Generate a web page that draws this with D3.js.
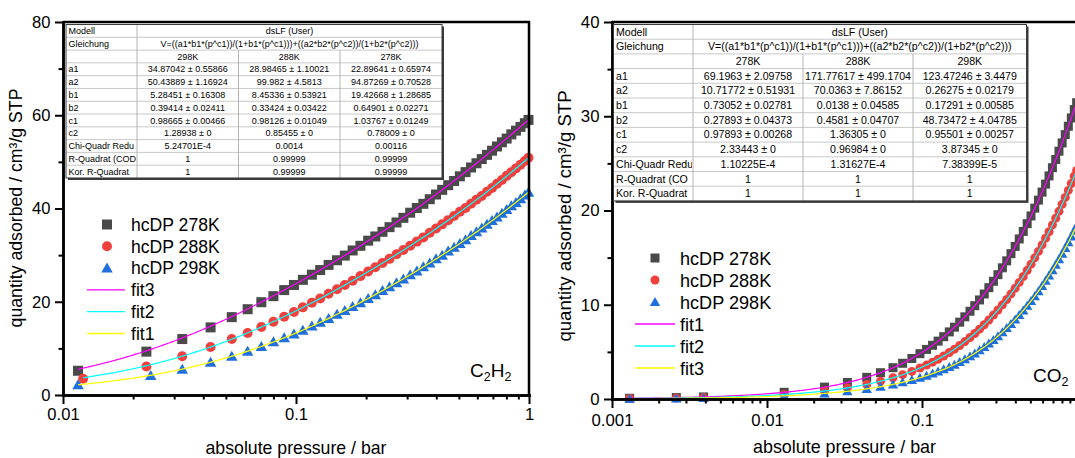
<!DOCTYPE html>
<html>
<head>
<meta charset="utf-8">
<script src="https://cdn.jsdelivr.net/npm/d3@7"></script>
<style>
  html, body { margin: 0; padding: 0; background: #fff; }
  svg { display: block; }
</style>
</head>
<body>
<svg id="chart" width="1075" height="458"></svg>
<script>
// ---------------- C2H2 isotherms (hcDP) ----------------
const c2h2StartP278 = [0.0116, 0.0228];
const c2h2StartP288 = [0.0122, 0.0228];
const c2h2StartP298 = [0.0116, 0.0238];
const c2h2Pressure = [0.0325, 0.043, 0.053, 0.062, 0.071, 0.080, 0.089, 0.098, 0.107, 0.117,
  0.127, 0.138, 0.150, 0.162, 0.175, 0.189, 0.204, 0.219, 0.235, 0.252, 0.270, 0.289, 0.309,
  0.330, 0.352, 0.375, 0.399, 0.424, 0.450, 0.477, 0.505, 0.534, 0.564, 0.595, 0.627, 0.660,
  0.694, 0.729, 0.765, 0.802, 0.840, 0.879, 0.919, 0.960, 0.995];
const c2h2Uptake278 = [5.2, 9.3, 12.0, 14.5, 16.7, 18.4, 19.9, 21.2, 22.5, 23.6, 24.7, 25.8,
  26.8, 27.9, 28.9, 29.9, 31.0, 32.0, 33.1, 34.0, 35.0, 36.0, 37.0, 38.0, 39.1, 40.1, 41.0,
  42.0, 43.0, 44.0, 45.0, 45.9, 46.9, 47.8, 48.8, 49.7, 50.6, 51.5, 52.4, 53.3, 54.2, 55.0,
  55.9, 56.7, 57.5, 58.3, 59.0];
const c2h2Uptake288 = [3.5, 6.1, 8.3, 10.3, 12.0, 13.3, 14.6, 15.7, 16.8, 17.8, 18.8, 19.8,
  20.7, 21.7, 22.7, 23.6, 24.5, 25.5, 26.5, 27.4, 28.3, 29.2, 30.2, 31.1, 32.0, 32.9, 33.8,
  34.8, 35.7, 36.6, 37.5, 38.4, 39.3, 40.1, 41.0, 41.9, 42.7, 43.6, 44.4, 45.3, 46.1, 47.0,
  47.8, 48.6, 49.4, 50.2, 50.9];
const c2h2Uptake298 = [2.2, 4.2, 5.5, 7.0, 8.3, 9.4, 10.4, 11.4, 12.3, 13.1, 13.9, 14.8,
  15.6, 16.4, 17.3, 18.1, 19.0, 19.8, 20.7, 21.5, 22.4, 23.2, 24.1, 24.9, 25.8, 26.6, 27.5,
  28.3, 29.2, 30.0, 30.9, 31.7, 32.5, 33.3, 34.2, 35.0, 35.8, 36.6, 37.4, 38.2, 39.0, 39.8,
  40.6, 41.3, 42.1, 42.9, 43.5];

// dsLF fit results for C2H2 (columns: 298K, 288K, 278K)
const c2h2Temps = ["298K", "288K", "278K"];
const c2h2A1 = [34.87042, 28.98465, 22.89641], c2h2A1Err = [0.55866, 1.10021, 0.65974];
const c2h2A2 = [50.43889, 99.982, 94.87269],   c2h2A2Err = [1.16924, 4.5813, 0.70528];
const c2h2B1 = [5.28451, 8.45336, 19.42668],   c2h2B1Err = [0.16308, 0.53921, 1.28685];
const c2h2B2 = [0.39414, 0.33424, 0.64901],    c2h2B2Err = [0.02411, 0.03422, 0.02271];
const c2h2C1 = [0.98665, 0.98126, 1.03767],    c2h2C1Err = [0.00466, 0.01049, 0.01249];
const c2h2C2 = [1.28938, 0.85455, 0.78009],    c2h2C2Err = [0, 0, 0];
const c2h2Chi = ["5.24701E-4", "0.0014", "0.00116"];
const c2h2R2 = ["1", "0.99999", "0.99999"];
const c2h2AdjR2 = ["1", "0.99999", "0.99999"];
const c2h2RowLabels = ["Modell", "Gleichung", "", "a1", "a2", "b1", "b2", "c1", "c2",
  "Chi-Quadr Redu", "R-Quadrat (COD", "Kor. R-Quadrat"];

// ---------------- CO2 isotherms (hcDP) ----------------
const co2Pressure = [0.0013, 0.0026, 0.0039, 0.0129, 0.0235, 0.033, 0.044, 0.054, 0.065, 0.075,
  0.086, 0.097, 0.107, 0.117, 0.127, 0.138, 0.150, 0.162, 0.175, 0.189, 0.204, 0.219, 0.235,
  0.252, 0.270, 0.289, 0.309, 0.330, 0.352, 0.375, 0.399, 0.424, 0.450, 0.477, 0.505, 0.534,
  0.564, 0.595, 0.627, 0.660, 0.694, 0.729, 0.765, 0.802, 0.840, 0.879, 0.919, 0.960, 0.995];
const co2Uptake278 = [0.08, 0.15, 0.22, 0.71, 1.26, 1.75, 2.30, 2.79, 3.32, 3.79, 4.30, 4.81,
  5.26, 5.70, 6.14, 6.61, 7.12, 7.62, 8.15, 8.72, 9.31, 9.90, 10.51, 11.14, 11.81, 12.49,
  13.19, 13.92, 14.66, 15.42, 16.19, 16.98, 17.78, 18.60, 19.42, 20.25, 21.10, 21.95, 22.80,
  23.67, 24.54, 25.41, 26.29, 27.17, 28.05, 28.94, 29.82, 30.71, 31.44];
const co2Uptake288 = [0.05, 0.10, 0.15, 0.48, 0.85, 1.18, 1.55, 1.89, 2.25, 2.58, 2.93, 3.29,
  3.60, 3.91, 4.22, 4.56, 4.93, 5.29, 5.68, 6.09, 6.52, 6.95, 7.41, 7.88, 8.38, 8.90, 9.44,
  9.99, 10.56, 11.15, 11.75, 12.37, 13.00, 13.65, 14.31, 14.98, 15.66, 16.35, 17.05, 17.75,
  18.47, 19.19, 19.91, 20.65, 21.39, 22.13, 22.87, 23.63, 24.26];
const co2Uptake298 = [0.04, 0.07, 0.11, 0.33, 0.59, 0.82, 1.07, 1.30, 1.55, 1.77, 2.02, 2.26,
  2.48, 2.70, 2.91, 3.15, 3.40, 3.65, 3.93, 4.22, 4.53, 4.84, 5.17, 5.52, 5.89, 6.27, 6.67,
  7.09, 7.53, 7.97, 8.44, 8.91, 9.40, 9.89, 10.40, 10.92, 11.45, 11.99, 12.54, 13.10, 13.67,
  14.24, 14.83, 15.42, 16.02, 16.63, 17.24, 17.86, 18.39];

// dsLF fit results for CO2 (columns: 278K, 288K, 298K)
const co2Temps = ["278K", "288K", "298K"];
const co2A1 = [69.1963, 171.77617, 123.47246], co2A1Err = [2.09758, 499.1704, 3.4479];
const co2A2 = [10.71772, 70.0363, 0.26275],    co2A2Err = [0.51931, 7.86152, 0.02179];
const co2B1 = [0.73052, 0.0138, 0.17291],      co2B1Err = [0.02781, 0.04585, 0.00585];
const co2B2 = [0.27893, 0.4581, 48.73472],     co2B2Err = [0.04373, 0.04707, 4.04785];
const co2C1 = [0.97893, 1.36305, 0.95501],     co2C1Err = [0.00268, 0, 0.00257];
const co2C2 = [2.33443, 0.96984, 3.87345],     co2C2Err = [0, 0, 0];
const co2Chi = ["1.10225E-4", "1.31627E-4", "7.38399E-5"];
const co2R2 = ["1", "1", "1"];
const co2AdjR2 = ["1", "1", "1"];
const co2RowLabels = ["Modell", "Gleichung", "", "a1", "a2", "b1", "b2", "c1", "c2",
  "Chi-Quadr Redu", "R-Quadrat (CO", "Kor. R-Quadrat"];

// ---------------- shared text and ticks ----------------
const equation = "V=((a1*b1*(p^c1))/(1+b1*(p^c1)))+((a2*b2*(p^c2))/(1+b2*(p^c2)))";
const c2h2XTicks = [0.01, 0.1, 1], c2h2XTickLabels = ["0.01", "0.1", "1"];
const c2h2XMinor = [0.02, 0.03, 0.04, 0.05, 0.06, 0.07, 0.08, 0.09, 0.2, 0.3, 0.4, 0.5, 0.6, 0.7, 0.8, 0.9];
const c2h2YTicks = [0, 20, 40, 60, 80], c2h2YMinor = [10, 30, 50, 70];
const co2XTicks = [0.001, 0.01, 0.1], co2XTickLabels = ["0.001", "0.01", "0.1"];
const co2XMinor = [0.002, 0.003, 0.004, 0.005, 0.006, 0.007, 0.008, 0.009,
  0.02, 0.03, 0.04, 0.05, 0.06, 0.07, 0.08, 0.09, 0.2, 0.3, 0.4, 0.5, 0.6, 0.7, 0.8, 0.9];
const co2YTicks = [0, 10, 20, 30, 40], co2YMinor = [5, 15, 25, 35];

const FONT = '"Liberation Sans", Arial, Helvetica, sans-serif';
const COL_SQ = "#4a4a4a", COL_CI = "#f0403e", COL_TR = "#1f6fdc";
const svg = d3.select("#chart");

// double-site Langmuir-Freundlich model
function dsLF(p, a1, b1, c1, a2, b2, c2) {
  const u = b1 * Math.pow(p, c1), v = b2 * Math.pow(p, c2);
  return a1 * u / (1 + u) + a2 * v / (1 + v);
}

function pm(v, e) { return v + " \u00b1 " + e; }

function drawMarker(sel, shape, s, color) {
  if (shape === "square") {
    sel.append("rect").attr("x", -s / 2).attr("y", -s / 2).attr("width", s).attr("height", s).attr("fill", color);
  } else if (shape === "circle") {
    sel.append("circle").attr("r", s / 2).attr("fill", color);
  } else {
    const w = s * 1.15, h = s;
    sel.append("path").attr("d", `M0,${-h * 0.55}L${w / 2},${h * 0.45}L${-w / 2},${h * 0.45}Z`).attr("fill", color);
  }
}

function drawPanel(cfg) {
  const g = svg.append("g");
  const x = d3.scaleLog().domain(cfg.xDomain).range(cfg.xRange);
  const y = d3.scaleLinear().domain(cfg.yDomain).range(cfg.yRange);
  const [x0, x1] = cfg.xRange, [yb, yt] = cfg.yRange;

  // data markers
  cfg.series.forEach(s => {
    g.append("g").selectAll("g")
      .data(d3.zip(s.p, s.q))
      .join("g")
      .attr("transform", d => `translate(${x(d[0])},${y(d[1])})`)
      .each(function () { drawMarker(d3.select(this), s.shape, cfg.markerSize, s.color); });
  });

  // fitted curves from the tabulated parameters
  const line = d3.line().x(d => x(d[0])).y(d => y(d[1]));
  cfg.fits.forEach(f => {
    const P = cfg.params, k = f.col;
    const pts = d3.range(0, 301).map(i => {
      const p = f.pStart * Math.pow(1 / f.pStart, i / 300);
      return [p, dsLF(p, P.a1[k], P.b1[k], P.c1[k], P.a2[k], P.b2[k], P.c2[k])];
    });
    g.append("path").datum(pts).attr("d", line)
      .attr("fill", "none").attr("stroke", f.color).attr("stroke-width", 1.2);
  });

  // frame (top and right)
  g.append("path").attr("d", `M${x0},${yt}H${x1}V${yb}`)
    .attr("fill", "none").attr("stroke", "#000").attr("stroke-width", 2.5);

  function styleAxis(a, fs) {
    a.attr("font-family", FONT).attr("font-size", fs);
    a.select(".domain").attr("stroke-width", 2.5).attr("stroke-linecap", "square");
    a.selectAll(".tick line").attr("stroke-width", 2);
  }
  // x axis
  styleAxis(g.append("g").attr("transform", `translate(0,${yb})`)
    .call(d3.axisBottom(x).tickValues(cfg.xMinor).tickSize(4.5).tickSizeOuter(0).tickFormat("")), cfg.tickFont);
  styleAxis(g.append("g").attr("transform", `translate(0,${yb})`)
    .call(d3.axisBottom(x).tickValues(cfg.xTicks).tickSize(9).tickSizeOuter(0)
      .tickPadding(cfg.xPad).tickFormat((d, i) => cfg.xTickLabels[i])), cfg.tickFont);
  // y axis
  styleAxis(g.append("g").attr("transform", `translate(${x0},0)`)
    .call(d3.axisLeft(y).tickValues(cfg.yMinor).tickSize(4.5).tickSizeOuter(0).tickFormat("")), cfg.tickFont);
  styleAxis(g.append("g").attr("transform", `translate(${x0},0)`)
    .call(d3.axisLeft(y).tickValues(cfg.yTicks).tickSize(8).tickSizeOuter(0).tickPadding(4.5)), cfg.tickFont);

  // axis titles
  g.append("text").attr("x", (x0 + x1) / 2).attr("y", cfg.xTitleY)
    .attr("text-anchor", "middle").attr("font-family", FONT).attr("font-size", cfg.titleFont)
    .text("absolute pressure / bar");
  g.append("text").attr("transform", `translate(${cfg.yTitleX},${cfg.yTitleY}) rotate(-90)`)
    .attr("text-anchor", "middle").attr("font-family", FONT).attr("font-size", cfg.yTitleFont)
    .text("quantity adsorbed / cm\u00b3/g STP");

  // fit-parameter table
  drawTable(cfg.table);

  // legend
  const lg = g.append("g").attr("font-family", FONT).attr("font-size", cfg.legend.font);
  const items = cfg.series.map(s => ({ kind: "marker", s }))
    .concat(cfg.legendFits.map(f => ({ kind: "line", f })));
  items.forEach((it, i) => {
    const cy = cfg.legend.y0 + i * cfg.legend.dy;
    if (it.kind === "marker") {
      const mg = lg.append("g").attr("transform", `translate(${cfg.legend.mx},${cy})`);
      drawMarker(mg, it.s.shape, cfg.legend.markerSize, it.s.color);
      lg.append("text").attr("x", cfg.legend.tx).attr("y", cy).attr("dy", "0.36em").text(it.s.label);
    } else {
      lg.append("line").attr("x1", cfg.legend.lx0).attr("x2", cfg.legend.lx1)
        .attr("y1", cy).attr("y2", cy).attr("stroke", it.f.color).attr("stroke-width", 1.3);
      lg.append("text").attr("x", cfg.legend.tx).attr("y", cy).attr("dy", "0.36em").text(it.f.label);
    }
  });

  // gas label with subscripts
  const gl = g.append("text").attr("x", cfg.gas.x).attr("y", cfg.gas.y)
    .attr("font-family", FONT).attr("font-size", 19);
  cfg.gas.parts.forEach(([t, sub], i) => {
    const ts = gl.append("tspan").text(t);
    if (sub) ts.attr("font-size", 12.5).attr("dy", 4);
    else if (i > 0) ts.attr("dy", -4);
  });
}

let clipId = 0;
function drawTable(t) {
  const g = svg.append("g").attr("font-family", FONT).attr("font-size", t.fontSize);
  const totalW = d3.sum(t.widths), nRows = t.rows.length, totalH = t.rowH * nRows;
  const colX = [t.x];
  t.widths.forEach(w => colX.push(colX[colX.length - 1] + w));

  g.append("rect").attr("x", t.x + 2).attr("y", t.y + 2).attr("width", totalW).attr("height", totalH).attr("fill", "#3a3a3a");
  g.append("rect").attr("x", t.x).attr("y", t.y).attr("width", totalW).attr("height", totalH).attr("fill", "#fff");

  for (let i = 1; i < nRows; i++) {
    g.append("line").attr("x1", t.x).attr("x2", t.x + totalW)
      .attr("y1", t.y + i * t.rowH).attr("y2", t.y + i * t.rowH)
      .attr("stroke", "#c8c8c8").attr("stroke-width", 1);
  }
  g.append("line").attr("x1", colX[1]).attr("x2", colX[1]).attr("y1", t.y).attr("y2", t.y + totalH)
    .attr("stroke", "#b4b4b4").attr("stroke-width", 1);
  [2, 3].forEach(c => g.append("line").attr("x1", colX[c]).attr("x2", colX[c])
    .attr("y1", t.y + 2 * t.rowH).attr("y2", t.y + totalH).attr("stroke", "#b4b4b4").attr("stroke-width", 1));
  g.append("rect").attr("x", t.x).attr("y", t.y).attr("width", totalW).attr("height", totalH)
    .attr("fill", "none").attr("stroke", "#3a3a3a").attr("stroke-width", 1);

  const id = "tblclip" + (clipId++);
  svg.append("defs").append("clipPath").attr("id", id).append("rect")
    .attr("x", colX[0]).attr("y", t.y).attr("width", t.widths[0] - 1).attr("height", totalH);

  t.rows.forEach((r, i) => {
    const cy = t.y + (i + 0.5) * t.rowH;
    g.append("text").attr("x", colX[0] + 2.5).attr("y", cy).attr("dy", "0.35em")
      .attr("clip-path", `url(#${id})`).text(r.label);
    if (r.span !== undefined) {
      g.append("text").attr("x", (colX[1] + colX[4]) / 2).attr("y", cy).attr("dy", "0.35em")
        .attr("text-anchor", "middle").text(r.span);
    } else {
      r.cells.forEach((c, j) => g.append("text").attr("x", (colX[j + 1] + colX[j + 2]) / 2)
        .attr("y", cy).attr("dy", "0.35em").attr("text-anchor", "middle").text(c));
    }
  });
}

function tableRows(labels, temps, A1, A1e, A2, A2e, B1, B1e, B2, B2e, C1, C1e, C2, C2e, chi, r2, adj) {
  const z = (v, e) => v.map((d, i) => pm(d, e[i]));
  const cols = [null, null, temps, z(A1, A1e), z(A2, A2e), z(B1, B1e), z(B2, B2e),
    z(C1, C1e), z(C2, C2e), chi, r2, adj];
  return labels.map((lab, i) => {
    if (i === 0) return { label: lab, span: "dsLF (User)" };
    if (i === 1) return { label: lab, span: equation };
    return { label: lab, cells: cols[i] };
  });
}

// ---------------- left panel: C2H2 ----------------
drawPanel({
  xDomain: [0.01, 1], xRange: [63, 529],
  yDomain: [0, 80], yRange: [395, 22],
  xTicks: c2h2XTicks, xTickLabels: c2h2XTickLabels, xMinor: c2h2XMinor,
  yTicks: c2h2YTicks, yMinor: c2h2YMinor, xPad: 4.5,
  tickFont: 16.6, titleFont: 17.7, yTitleFont: 17.7,
  xTitleY: 454, yTitleX: 22, yTitleY: 208,
  markerSize: 10,
  params: { a1: c2h2A1, b1: c2h2B1, c1: c2h2C1, a2: c2h2A2, b2: c2h2B2, c2: c2h2C2 },
  series: [
    { label: "hcDP 278K", shape: "square", color: COL_SQ, p: c2h2StartP278.concat(c2h2Pressure), q: c2h2Uptake278 },
    { label: "hcDP 288K", shape: "circle", color: COL_CI, p: c2h2StartP288.concat(c2h2Pressure), q: c2h2Uptake288 },
    { label: "hcDP 298K", shape: "triangle", color: COL_TR, p: c2h2StartP298.concat(c2h2Pressure), q: c2h2Uptake298 }
  ],
  fits: [
    { color: "#ff00ff", col: 2, pStart: c2h2StartP278[0] },
    { color: "#00ffff", col: 1, pStart: c2h2StartP288[0] },
    { color: "#ffff00", col: 0, pStart: c2h2StartP298[0] }
  ],
  legendFits: [
    { label: "fit3", color: "#ff00ff" }, { label: "fit2", color: "#00ffff" }, { label: "fit1", color: "#ffff00" }
  ],
  legend: { y0: 224.5, dy: 21.8, mx: 107, lx0: 87, lx1: 125, tx: 131, font: 17.6, markerSize: 10 },
  gas: { x: 470, y: 377, parts: [["C", false], ["2", true], ["H", false], ["2", true]] },
  table: {
    x: 66, y: 24.5, widths: [71, 101.5, 101.5, 102], rowH: 12.79, fontSize: 9,
    rows: tableRows(c2h2RowLabels, c2h2Temps, c2h2A1, c2h2A1Err, c2h2A2, c2h2A2Err, c2h2B1, c2h2B1Err,
      c2h2B2, c2h2B2Err, c2h2C1, c2h2C1Err, c2h2C2, c2h2C2Err, c2h2Chi, c2h2R2, c2h2AdjR2)
  }
});

// ---------------- right panel: CO2 ----------------
drawPanel({
  xDomain: [0.001, 1], xRange: [612, 1077],
  yDomain: [0, 40], yRange: [399, 22],
  xTicks: co2XTicks, xTickLabels: co2XTickLabels, xMinor: co2XMinor,
  yTicks: co2YTicks, yMinor: co2YMinor, xPad: 6,
  tickFont: 16.8, titleFont: 17.9, yTitleFont: 18.6,
  xTitleY: 453, yTitleX: 571, yTitleY: 216,
  markerSize: 9,
  params: { a1: co2A1, b1: co2B1, c1: co2C1, a2: co2A2, b2: co2B2, c2: co2C2 },
  series: [
    { label: "hcDP 278K", shape: "square", color: COL_SQ, p: co2Pressure, q: co2Uptake278 },
    { label: "hcDP 288K", shape: "circle", color: COL_CI, p: co2Pressure, q: co2Uptake288 },
    { label: "hcDP 298K", shape: "triangle", color: COL_TR, p: co2Pressure, q: co2Uptake298 }
  ],
  fits: [
    { color: "#ff00ff", col: 0, pStart: co2Pressure[0] },
    { color: "#00ffff", col: 1, pStart: co2Pressure[0] },
    { color: "#ffff00", col: 2, pStart: co2Pressure[0] }
  ],
  legendFits: [
    { label: "fit1", color: "#ff00ff" }, { label: "fit2", color: "#00ffff" }, { label: "fit3", color: "#ffff00" }
  ],
  legend: { y0: 258, dy: 22, mx: 655, lx0: 635, lx1: 675, tx: 680, font: 18.1, markerSize: 9 },
  gas: { x: 1033, y: 382, parts: [["CO", false], ["2", true]] },
  table: {
    x: 613.5, y: 24.5, widths: [79.5, 110, 110, 113.5], rowH: 14.7, fontSize: 10.6,
    rows: tableRows(co2RowLabels, co2Temps, co2A1, co2A1Err, co2A2, co2A2Err, co2B1, co2B1Err,
      co2B2, co2B2Err, co2C1, co2C1Err, co2C2, co2C2Err, co2Chi, co2R2, co2AdjR2)
  }
});
</script>
</body>
</html>
